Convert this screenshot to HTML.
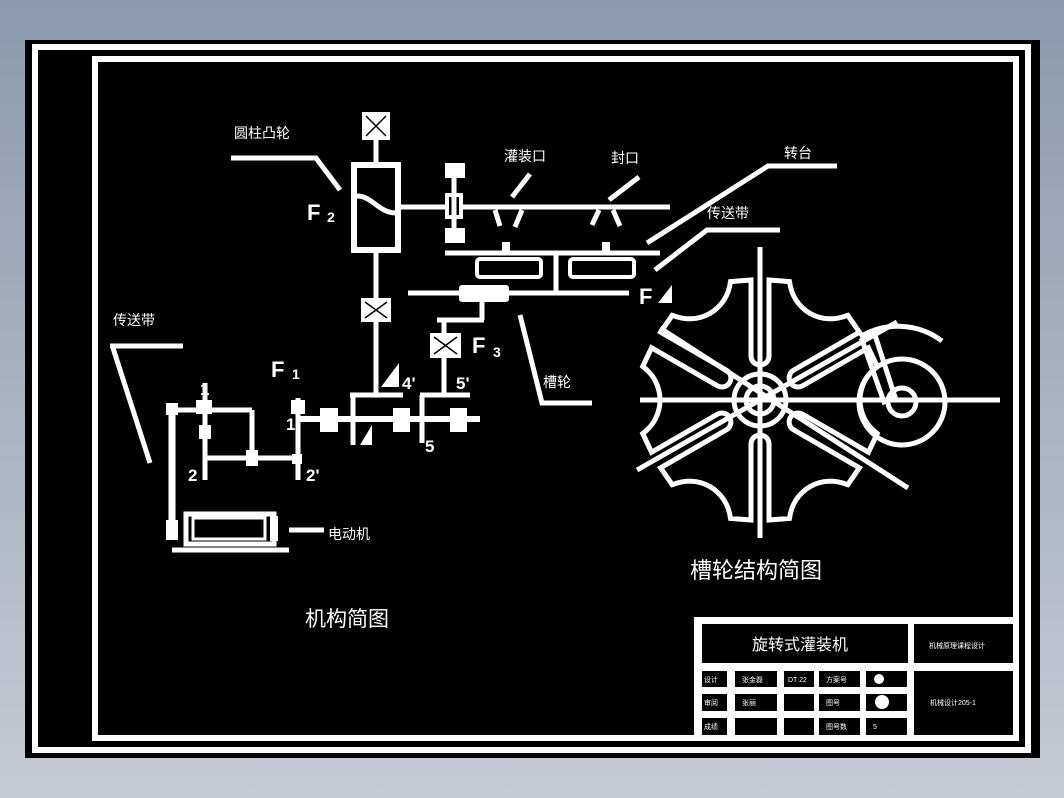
<!DOCTYPE html>
<html><head><meta charset="utf-8">
<style>
html,body{margin:0;padding:0;}
body{width:1064px;height:798px;overflow:hidden;background:linear-gradient(#8a9aae,#c6cad3);font-family:"Liberation Sans","Noto Sans CJK SC",sans-serif;}
svg{position:absolute;left:0;top:0;}
text{fill:#fff;font-family:"Liberation Sans","Noto Sans CJK SC",sans-serif;}
</style></head><body>
<svg width="1064" height="798" viewBox="0 0 1064 798">
<rect x="25" y="40" width="1015" height="718" fill="#000"/>
<rect x="35" y="47" width="993" height="703" fill="none" stroke="#fff" stroke-width="6"/>
<rect x="95" y="59" width="921" height="679" fill="none" stroke="#fff" stroke-width="6"/>
<!-- title block -->
<rect x="694" y="617" width="324" height="121" fill="#fff"/>
<g fill="#000">
<rect x="702" y="624" width="206" height="39"/>
<rect x="914" y="624" width="99" height="39"/>
<rect x="914" y="671" width="99" height="64"/>
<rect x="702" y="671" width="25" height="16"/><rect x="735" y="671" width="42" height="16"/><rect x="784" y="671" width="30" height="16"/><rect x="819" y="671" width="41" height="16"/><rect x="866" y="671" width="41" height="16"/>
<rect x="702" y="694" width="25" height="17"/><rect x="735" y="694" width="42" height="17"/><rect x="784" y="694" width="30" height="17"/><rect x="819" y="694" width="41" height="17"/><rect x="866" y="694" width="41" height="17"/>
<rect x="702" y="718" width="25" height="17"/><rect x="735" y="718" width="42" height="17"/><rect x="784" y="718" width="30" height="17"/><rect x="819" y="718" width="41" height="17"/><rect x="866" y="718" width="41" height="17"/>
</g>
<text x="752" y="650" font-size="16">旋转式灌装机</text>
<text x="929" y="648" font-size="7">机械原理课程设计</text>
<text x="930" y="705" font-size="7">机械设计205-1</text>
<g font-size="7"><text x="704" y="682">设计</text><text x="742" y="682">张金磊</text><text x="788" y="682">DT 22</text><text x="826" y="682">方案号</text>
<text x="704" y="705">审阅</text><text x="742" y="705">张丽</text><text x="826" y="705">图号</text>
<text x="704" y="729">成绩</text><text x="826" y="729">图号数</text><text x="873" y="729">5</text></g>
<circle cx="879" cy="679" r="5" fill="#fff"/><circle cx="882" cy="702" r="7" fill="#fff"/>

<g stroke="#fff" stroke-width="5" fill="none" stroke-linecap="butt">
<!-- cam shaft -->
<line x1="376" y1="120" x2="376" y2="163"/>
<rect x="354" y="165" width="44" height="85" stroke-width="6"/>
<path d="M357 196 C372 196 378 212 395 213" stroke-width="5"/>
<line x1="376" y1="250" x2="376" y2="395"/>
<line x1="398" y1="207" x2="446" y2="207"/>
<rect x="447" y="195" width="14" height="22" stroke-width="4"/>
<line x1="454" y1="165" x2="454" y2="243"/>
<line x1="461" y1="207" x2="670" y2="207"/>
<!-- nozzles -->
<line x1="512" y1="197" x2="530" y2="174"/>
<line x1="495" y1="210" x2="500" y2="226"/><line x1="522" y1="210" x2="515" y2="227"/>
<line x1="609" y1="200" x2="639" y2="177"/>
<line x1="599" y1="210" x2="592" y2="225"/><line x1="613" y1="210" x2="620" y2="226"/>
<!-- platform -->
<line x1="445" y1="253" x2="660" y2="253"/>
<line x1="556" y1="253" x2="556" y2="293"/>
<line x1="408" y1="293" x2="629" y2="293"/>
<rect x="477" y="259" width="64" height="18" rx="3" stroke-width="4"/>
<rect x="570" y="259" width="64" height="18" rx="3" stroke-width="4"/>
<line x1="482" y1="302" x2="482" y2="320"/>
<line x1="437" y1="320" x2="484" y2="320"/>
<line x1="444" y1="318" x2="444" y2="395"/>
<!-- groove pointer -->
<polyline points="520,315 542,403 592,403"/>
<!-- main horizontal shaft -->
<line x1="296" y1="419" x2="480" y2="419" stroke-width="6"/>
<line x1="353" y1="395" x2="353" y2="445"/>
<line x1="350" y1="395" x2="403" y2="395"/>
<line x1="422" y1="395" x2="422" y2="443"/>
<line x1="420" y1="395" x2="470" y2="395"/>
<!-- left gear train -->
<line x1="298" y1="398" x2="298" y2="480"/>
<line x1="205" y1="383" x2="205" y2="480"/>
<line x1="172" y1="405" x2="172" y2="533" stroke-width="7"/>
<line x1="172" y1="410" x2="252" y2="410"/>
<line x1="252" y1="410" x2="252" y2="458"/>
<line x1="205" y1="458" x2="298" y2="458"/>
<!-- motor -->
<rect x="186" y="514" width="88" height="30" stroke-width="5"/>
<rect x="193" y="518" width="72" height="21" stroke-width="3"/>
<line x1="172" y1="550" x2="289" y2="550"/>
<line x1="289" y1="530" x2="324" y2="530"/>
<!-- leader lines -->
<polyline points="110,346 183,346"/>
<line x1="113" y1="348" x2="150" y2="463"/>
<polyline points="231,158 316,158 340,190"/>
<polyline points="837,166 768,166 647,243"/>
<polyline points="780,230 707,230 655,270"/>
</g>
<g fill="#fff">
<rect x="362" y="112" width="28" height="28"/><rect x="361" y="298" width="30" height="24"/>
<rect x="445" y="163" width="20" height="15"/><rect x="445" y="228" width="20" height="15"/>
<rect x="430" y="333" width="31" height="25"/>
<rect x="459" y="285" width="50" height="17" rx="3"/>
<rect x="502" y="242" width="8" height="10"/><rect x="602" y="242" width="8" height="10"/>
<rect x="320" y="408" width="18" height="24"/><rect x="393" y="408" width="17" height="24"/><rect x="450" y="408" width="17" height="24"/>
<rect x="166" y="403" width="12" height="12"/><rect x="166" y="520" width="12" height="20"/>
<rect x="196" y="400" width="16" height="14"/><rect x="199" y="425" width="12" height="14"/><rect x="246" y="450" width="12" height="16"/>
<rect x="291" y="400" width="14" height="14"/><rect x="292" y="454" width="10" height="10"/>
<rect x="270" y="516" width="8" height="25"/>
</g>
<g stroke="#000" stroke-width="1.5">
<line x1="366" y1="116" x2="386" y2="136"/><line x1="386" y1="116" x2="366" y2="136"/>
<line x1="365" y1="302" x2="387" y2="318"/><line x1="387" y1="302" x2="365" y2="318"/>
<line x1="434" y1="337" x2="457" y2="354"/><line x1="457" y1="337" x2="434" y2="354"/>
</g>
<!-- gear labels -->
<g font-weight="bold" font-size="22" font-family="Liberation Mono">
<text x="271" y="377">F</text><text x="292" y="379" font-size="14">1</text>
<text x="307" y="220">F</text><text x="327" y="222" font-size="14">2</text>
<text x="472" y="353">F</text><text x="493" y="357" font-size="14">3</text>
<text x="639" y="304">F</text>
</g>
<polygon points="672,285 672,303 658,303" fill="#fff"/>
<polygon points="399,363 399,387 381,387" fill="#fff"/>
<polygon points="372,425 372,445 360,445" fill="#fff"/>
<g font-weight="bold" font-size="17" font-family="Liberation Mono">
<text x="200" y="395">1</text><text x="188" y="481">2</text><text x="306" y="481">2'</text><text x="286" y="430">1</text>
<text x="402" y="389">4'</text><text x="456" y="389">5'</text><text x="425" y="452">5</text>
</g>
<g font-size="14">
<text x="234" y="138">圆柱凸轮</text>
<text x="504" y="161">灌装口</text>
<text x="611" y="163">封口</text>
<text x="784" y="158">转台</text>
<text x="707" y="218">传送带</text>
<text x="113" y="325">传送带</text>
<text x="543" y="387">槽轮</text>
<text x="328" y="539">电动机</text>
</g>
<text x="305" y="626" font-size="21">机构简图</text>
<text x="690" y="578" font-size="22">槽轮结构简图</text>

<!-- Geneva -->
<g stroke="#fff" stroke-width="5" fill="none">
<line x1="640" y1="400" x2="1000" y2="400"/>
<line x1="760" y1="247" x2="760" y2="538"/>
<line x1="637" y1="470" x2="897" y2="322"/>
<line x1="660" y1="328" x2="908" y2="488"/>
<path id="gen" d=""/>
<circle cx="760" cy="400" r="26"/>
<circle cx="760" cy="400" r="14"/>
<circle cx="902" cy="402" r="43"/>
<circle cx="902" cy="402" r="14"/>
<path d="M860 337 A73 73 0 0 1 942 341"/>
<polygon points="895,397 874,332 862,340 884,402"/>
</g>
</svg>
<script>
(function(){
var cx=760,cy=400,R=122,w=9,r0=44,rho=41,Dc=141;
function P(x,y){return (cx+x).toFixed(1)+","+(cy-y).toFixed(1);}
var pts=[];var d2r=Math.PI/180;
for(var k=0;k<6;k++){
 var t=(30+60*k)*d2r,ux=Math.cos(t),uy=Math.sin(t),nx=-uy,ny=ux;
 pts.push([120*ux-w*nx,120*uy-w*ny]);
 pts.push([r0*ux-w*nx,r0*uy-w*ny]);
 for(var i=1;i<12;i++){var a=-Math.PI/2-Math.PI*i/12;
  // around slot bottom center, from -n side through -u to +n side
  var ca=Math.cos(a),sa=Math.sin(a);
  // local: along n = sin component, along u = cos
  var lx=-Math.sin(Math.PI*i/12)*w, ln=-Math.cos(Math.PI*i/12)*w;
  pts.push([r0*ux+lx*ux+ln*nx, r0*uy+lx*uy+ln*ny]);}
 pts.push([r0*ux+w*nx,r0*uy+w*ny]);
 pts.push([120*ux+w*nx,120*uy+w*ny]);
 var a1=t+14*d2r,a2=t+46*d2r,ph=t+30*d2r;
 var p1=[R*Math.cos(a1),R*Math.sin(a1)],p2=[R*Math.cos(a2),R*Math.sin(a2)];
 pts.push(p1);
 var C=[Dc*Math.cos(ph),Dc*Math.sin(ph)];
 var b1=Math.atan2(p1[1]-C[1],p1[0]-C[0]),b2=Math.atan2(p2[1]-C[1],p2[0]-C[0]);
 var db=b2-b1;while(db>Math.PI)db-=2*Math.PI;while(db<-Math.PI)db+=2*Math.PI;
 // choose the way passing near -ph direction
 var mid=b1+db/2, tgt=ph+Math.PI;
 var diff=Math.cos(mid-tgt);
 if(diff<0){db=db>0?db-2*Math.PI:db+2*Math.PI;}
 for(var j=1;j<16;j++){var b=b1+db*j/16;pts.push([C[0]+rho*Math.cos(b),C[1]+rho*Math.sin(b)]);}
 pts.push(p2);
}
var d="M"+pts.map(function(p){return P(p[0],p[1]);}).join(" L")+" Z";
document.getElementById("gen").setAttribute("d",d);
})();
</script>
</body></html>
